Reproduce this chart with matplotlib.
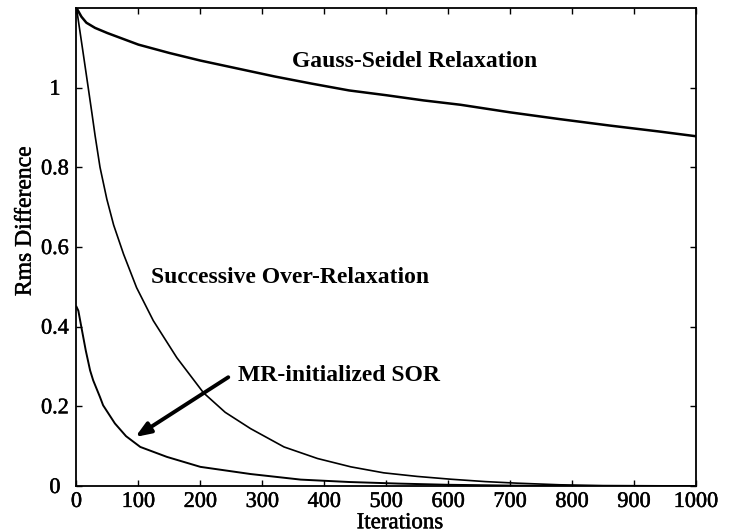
import matplotlib
matplotlib.use("Agg")
import matplotlib.pyplot as plt
import matplotlib.patheffects as pe

plt.rcParams['font.family'] = ['Liberation Serif', 'DejaVu Serif']

# Gauss-Seidel relaxation
gs_iter = [0, 8, 16, 30, 50, 100, 150, 200, 260, 320, 380, 440, 500, 560, 620, 700, 780, 860, 940, 1000]
gs_rms = [1.2, 1.178, 1.163, 1.150, 1.137, 1.108, 1.087, 1.068, 1.048, 1.028, 1.010, 0.993,
          0.981, 0.968, 0.957, 0.938, 0.921, 0.905, 0.890, 0.878]

# successive over-relaxation
sor_iter = [0, 10, 18, 25, 30, 38, 49, 60, 76, 97, 124, 162, 205, 240, 281, 335, 389, 443, 496,
            550, 604, 660, 712, 780, 850, 1000]
sor_rms = [1.2, 1.095, 1.01, 0.935, 0.88, 0.80, 0.72, 0.655, 0.582, 0.498, 0.415, 0.322, 0.234,
           0.185, 0.144, 0.098, 0.069, 0.048, 0.033, 0.024, 0.017, 0.011, 0.007, 0.003, 0.001, 0.0]

# SOR started from the MR initial guess
mr_iter = [0, 3, 8, 15, 22, 27, 38, 43, 62, 80, 103, 146, 200, 281, 362, 440, 520, 600, 700, 800, 1000]
mr_rms = [0.45, 0.44, 0.398, 0.34, 0.29, 0.265, 0.223, 0.2025, 0.157, 0.125, 0.098, 0.073,
          0.048, 0.030, 0.016, 0.010, 0.006, 0.003, 0.001, 0.0, 0.0]

x_ticks = [0, 100, 200, 300, 400, 500, 600, 700, 800, 900, 1000]
y_ticks = [0, 0.2, 0.4, 0.6, 0.8, 1]
y_labels = ['0', '0.2', '0.4', '0.6', '0.8', '1']

fig = plt.figure(figsize=(7.34, 5.32), dpi=100)
ax = fig.add_axes([0.1042, 0.0865, 0.844, 0.8985])

ax.plot(gs_iter, gs_rms, color='black', lw=1.8)
ax.plot(sor_iter, sor_rms, color='black', lw=1.2)
ax.plot(mr_iter, mr_rms, color='black', lw=1.4)

ax.set_xlim(0, 1000)
ax.set_ylim(0, 1.2)
ax.set_xticks(x_ticks)
ax.set_yticks(y_ticks)
ax.set_yticklabels(y_labels)
ax.tick_params(direction='in', top=True, right=True, length=4, width=1,
               labelsize=16, colors='black')
ax.tick_params(axis='x', pad=5)
ax.tick_params(axis='y', pad=15.5)
for sp in ax.spines.values():
    sp.set_linewidth(1.3)

# slightly heavier regular text for ticks and axis labels
heavy = [pe.withStroke(linewidth=0.35, foreground='black')]
for lab in ax.get_yticklabels():
    lab.set_horizontalalignment('center')
    lab.set_path_effects(heavy)
for lab in ax.get_xticklabels():
    lab.set_path_effects(heavy)

ax.set_xlabel('Iterations', fontsize=16.5, path_effects=heavy)
ax.set_ylabel('Rms Difference', fontsize=17, path_effects=heavy)
ax.xaxis.set_label_coords(0.522, -0.055)
ax.yaxis.set_label_coords(-0.066, 0.554)

ax.text(546, 1.065, 'Gauss-Seidel Relaxation', fontsize=17, fontweight='bold',
        ha='center', va='center')
ax.text(344, 0.523, 'Successive Over-Relaxation', fontsize=17, fontweight='bold',
        ha='center', va='center')
ax.text(423, 0.2775, 'MR-initialized SOR', fontsize=17, fontweight='bold',
        ha='center', va='center')
ax.annotate('', xy=(95, 0.123), xytext=(245, 0.273),
            arrowprops=dict(arrowstyle='-|>,head_length=0.9,head_width=0.35',
                            color='black', lw=2.8, shrinkA=0, shrinkB=0))

fig.savefig('out.png', dpi=100)
